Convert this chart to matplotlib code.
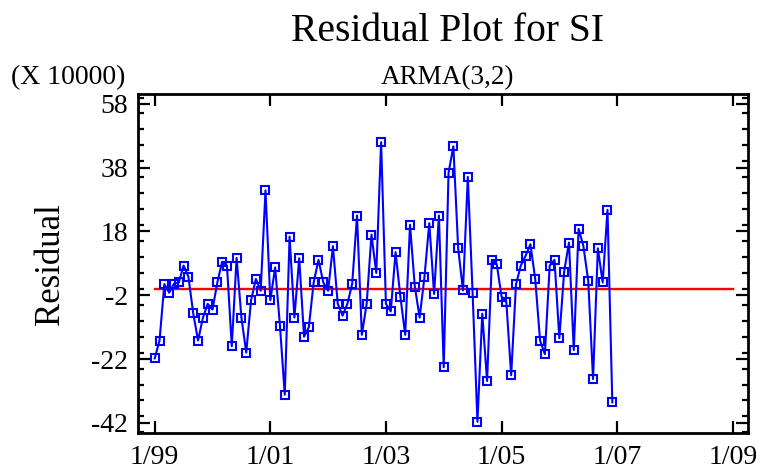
import numpy as np
import matplotlib
matplotlib.use("Agg")
import matplotlib.pyplot as plt
from matplotlib.ticker import FixedLocator, MultipleLocator

plt.rcParams['font.family'] = ['Liberation Serif', 'DejaVu Serif']

# Monthly residuals (units of 10000), Jan 1999 - Dec 2006
start_year = 1999
residuals = [
    -21.8, -16.2, 1.5, -1.2, 1.6, 2.0, 7.3, 3.8, -7.7, -16.2, -9.1, -4.7,
    -6.5, 2.0, 8.5, 7.3, -18.0, 9.7, -9.0, -20.0, -3.6, 3.1, -0.6, 30.9,
    -3.6, 6.7, -11.5, -33.2, 16.4, -9.0, 9.6, -15.0, -12.0, 2.0, 9.1, 2.0,
    -0.6, 13.4, -4.7, -8.4, -4.7, 1.6, 23.0, -14.4, -4.7, 17.0, 5.0, 46.0,
    -4.7, -7.1, 11.5, -2.4, -14.4, 20.1, 0.7, -9.0, 3.7, 20.6, -1.6, 23.0,
    -24.6, 36.4, 44.7, 12.7, -0.5, 35.1, -1.4, -41.7, -7.8, -28.9, 9.1, 7.8,
    -2.4, -4.2, -27.1, 1.4, 7.3, 10.4, 14.0, 3.0, -16.2, -20.5, 7.3, 9.1,
    -15.5, 5.4, 14.5, -19.2, 18.8, 13.4, 2.5, -28.3, 12.7, 2.0, 24.8, -35.6,
]
y_ticks = [-42, -22, -2, 18, 38, 58]
x_tick_years = [1999, 2001, 2003, 2005, 2007, 2009]
x_tick_labels = ["1/99", "1/01", "1/03", "1/05", "1/07", "1/09"]
zero_line_span = (1999, 2009)

t = start_year + np.arange(len(residuals)) / 12.0

fig = plt.figure(figsize=(7.6, 4.72), dpi=100)
ax = fig.add_axes([0.1812, 0.0820, 0.9836 - 0.1812, 0.8008 - 0.0820])

ax.plot(zero_line_span, [0, 0], color='#ff0000', lw=1.7, zorder=2)
ax.plot(t, residuals, color='#0000ff', lw=1.5, marker='s', ms=5.6,
        mfc='none', mec='#0000ff', mew=1.5, zorder=3)

ax.set_xlim(1998.706, 2009.256)
ax.set_ylim(-45.3, 61.1)

ax.xaxis.set_major_locator(FixedLocator(x_tick_years))
ax.set_xticklabels(x_tick_labels)
ax.yaxis.set_major_locator(FixedLocator(y_ticks))
ax.set_yticklabels([str(v) for v in y_ticks])
ax.yaxis.set_minor_locator(MultipleLocator(5))

for s in ax.spines.values():
    s.set_linewidth(2.0)
ax.tick_params(which='both', direction='in', top=True, right=True,
               labelsize=20, width=1.6)
ax.tick_params(which='major', length=8.5)
ax.tick_params(which='minor', length=4.5)
ax.tick_params(axis='x', pad=8.5)
ax.tick_params(axis='y', pad=7)

ax.set_ylabel("Residual", fontsize=25, labelpad=17)

fig.text(0.589, 0.934, "Residual Plot for SI", ha='center', va='center',
         fontsize=28.5)
fig.text(0.589, 0.835, "ARMA(3,2)", ha='center', va='center', fontsize=19.5)
fig.text(0.015, 0.835, "(X 10000)", ha='left', va='center', fontsize=20)

fig.savefig("out.png", dpi=100)
